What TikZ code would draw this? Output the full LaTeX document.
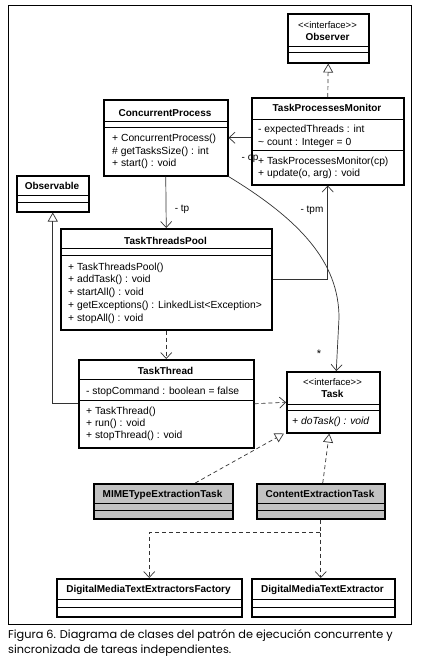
\documentclass[tikz,border=0pt]{standalone}
\usepackage{fontspec}
\setmainfont{Liberation Sans}
\newfontfamily\capfont{Poppins}
\usetikzlibrary{arrows.meta}
\begin{document}
\begin{tikzpicture}[x=1pt,y=-1pt,
  cbox/.style={draw=black, line width=1.5pt, rectangle, inner sep=0pt, anchor=north west},
  gbox/.style={cbox, fill=black!24},
  sep/.style={line width=0.7pt},
  ttl/.style={anchor=base, inner sep=0pt, font=\fontsize{10}{12}\selectfont\bfseries},
  ster/.style={anchor=base, inner sep=0pt, font=\fontsize{9.5}{10}\selectfont},
  mem/.style={anchor=base west, inner sep=0pt, font=\fontsize{10.3}{12}\selectfont},
  lbl/.style={anchor=base, inner sep=0pt, font=\fontsize{10}{12}\selectfont},
  conn/.style={draw=black!80, line width=0.7pt},
  assoc/.style={conn, -{Straight Barb[length=6pt,width=11pt]}},
  dep/.style={assoc, dash pattern=on 4pt off 3pt},
  gen/.style={conn, -{Triangle[open,length=9pt,width=10pt]}},
  real/.style={gen, dash pattern=on 4pt off 3pt},
  capt/.style={anchor=base west, inner sep=0pt, font=\capfont\fontsize{11.3}{15}\selectfont},
]
\useasboundingbox (0,0) rectangle (421,665);
\fill[white] (0,0) rectangle (421,665);
\draw[line width=1pt] (8,5) rectangle (411,624);

% Observer
\node[cbox, minimum width=81pt, minimum height=49pt] (obs) at (287,13) {};
\node[ster] (obs-s) at (327.5,28) {{<}{<}interface{>}{>}};
\node[ttl] (obs-t) at (327.5,40.5) {Observer};
\draw[sep] (287,46) -- (368,46);
\draw[sep] (287,52) -- (368,52);

% ConcurrentProcess
\node[cbox, minimum width=124pt, minimum height=76pt] (cp) at (103,99) {};
\node[ttl] (cp-t) at (165,116.5) {ConcurrentProcess};
\draw[sep] (103,121) -- (227,121);
\draw[sep] (103,127) -- (227,127);
\node[mem] (cp-m1) at (112,141.5) {+ ConcurrentProcess()};
\node[mem] (cp-m2) at (112,154.5) {\# getTasksSize() : int};
\node[mem] (cp-m3) at (112,166.5) {+ start() : void};

% TaskProcessesMonitor
\node[cbox, minimum width=152pt, minimum height=87pt] (tpm) at (251,97) {};
\node[ttl] (tpm-t) at (327,111.5) {TaskProcessesMonitor};
\draw[sep] (251,119.5) -- (403,119.5);
\node[mem] (tpm-a1) at (258,132) {- expectedThreads : int};
\node[mem] (tpm-a2) at (258,145) {\~{} count : Integer = 0};
\draw[sep] (251,150) -- (403,150);
\node[mem] (tpm-m1) at (258,164.5) {+ TaskProcessesMonitor(cp)};
\node[mem] (tpm-m2) at (258,176.5) {+ update(o, arg) : void};

% Observable
\node[cbox, minimum width=72pt, minimum height=36pt] (obl) at (16,175) {};
\node[ttl] (obl-t) at (52,189.5) {Observable};
\draw[sep] (16,195) -- (88,195);
\draw[sep] (16,202) -- (88,202);

% TaskThreadsPool
\node[cbox, minimum width=211pt, minimum height=101pt] (ttp) at (60,228) {};
\node[ttl] (ttp-t) at (165.5,244.5) {TaskThreadsPool};
\draw[sep] (60,248) -- (271,248);
\draw[sep] (60,255) -- (271,255);
\node[mem] (ttp-m1) at (68,270.5) {+ TaskThreadsPool()};
\node[mem] (ttp-m2) at (68,282.5) {+ addTask() : void};
\node[mem] (ttp-m3) at (68,295.5) {+ startAll() : void};
\node[mem] (ttp-m4) at (68,308.5) {+ getExceptions() : LinkedList{<}Exception{>}};
\node[mem] (ttp-m5) at (68,321.5) {+ stopAll() : void};

% TaskThread
\node[cbox, minimum width=175pt, minimum height=88pt] (tt) at (78,359) {};
\node[ttl] (tt-t) at (165.5,374.5) {TaskThread};
\draw[sep] (78,379) -- (253,379);
\node[mem] (tt-a1) at (86,394.5) {- stopCommand : boolean = false};
\draw[sep] (78,400) -- (253,400);
\node[mem] (tt-m1) at (86,414.5) {+ TaskThread()};
\node[mem] (tt-m2) at (86,426.5) {+ run() : void};
\node[mem] (tt-m3) at (86,438.5) {+ stopThread() : void};

% Task
\node[cbox, minimum width=93pt, minimum height=61pt] (task) at (286,371) {};
\node[ster] (task-s) at (332.5,385.5) {{<}{<}interface{>}{>}};
\node[ttl] (task-t) at (332.5,397.5) {Task};
\draw[sep] (286,404) -- (379,404);
\draw[sep] (286,410) -- (379,410);
\node[mem, font=\fontsize{10.3}{12}\selectfont\itshape] (task-m1) at (292,424.5) {+ doTask() : void};

% MIMETypeExtractionTask
\node[gbox, minimum width=139pt, minimum height=35pt] (mime) at (93,483) {};
\node[ttl] (mime-t) at (162.5,497.5) {MIMETypeExtractionTask};
\draw[sep] (93,503) -- (232,503);
\draw[sep] (93,510) -- (232,510);

% ContentExtractionTask
\node[gbox, minimum width=128pt, minimum height=35pt] (ce) at (256,483) {};
\node[ttl] (ce-t) at (320,497.5) {ContentExtractionTask};
\draw[sep] (256,503) -- (384,503);
\draw[sep] (256,510) -- (384,510);

% DigitalMediaTextExtractorsFactory
\node[cbox, minimum width=185pt, minimum height=38pt] (dmtef) at (56,578) {};
\node[ttl] (dmtef-t) at (148.5,592.5) {DigitalMediaTextExtractorsFactory};
\draw[sep] (56,599) -- (241,599);
\draw[sep] (56,607) -- (241,607);

% DigitalMediaTextExtractor
\node[cbox, minimum width=143pt, minimum height=38pt] (dmte) at (251,578) {};
\node[ttl] (dmte-t) at (322.5,592.5) {DigitalMediaTextExtractor};
\draw[sep] (251,599) -- (394,599);
\draw[sep] (251,607) -- (394,607);

% connectors
\draw[real] (tpm.north) -- (obs.south);
\draw[assoc] (tpm.west |- cp.east) -- (cp.east);
\node[lbl] (lcp) at (250,160) {- cp};
\draw[assoc] (cp.south) -- (ttp.north);
\node[lbl] (ltp) at (182,211.5) {- tp};
\draw[assoc] (ttp.east) -| (tpm.south);
\node[lbl] (ltpm) at (312,212.5) {- tpm};
\draw[assoc] (cp.south east) .. controls (300,220) and (339,262) .. (339,318) -- ([xshift=3pt]task.north);
\node[lbl, font=\fontsize{11}{12}\selectfont] (lstar) at (319,357) {*};
\draw[dep] (ttp.south) -- (tt.north);
\draw[gen] (tt.west) -| (obl.south);
\draw[dep] (tt.east) -- (task.west);
\draw[real] ([xshift=32pt]mime.north) -- ([xshift=-2pt]task.south west);
\draw[real] ([xshift=2pt]ce.north) -- ([xshift=-4pt]task.south);
\coordinate (j) at ([yshift=-13pt]ce.south);
\draw[dep] (ce.south) -- (j) -| (dmtef.north);
\draw[dep] (j) -- (j |- dmte.north);

% caption
\node[capt] (cap1) at (8,638.5) {Figura 6. Diagrama de clases del patrón de ejecución concurrente y};
\node[capt] (cap2) at (8,653.5) {sincronizada de tareas independientes.};
\end{tikzpicture}
\end{document}
